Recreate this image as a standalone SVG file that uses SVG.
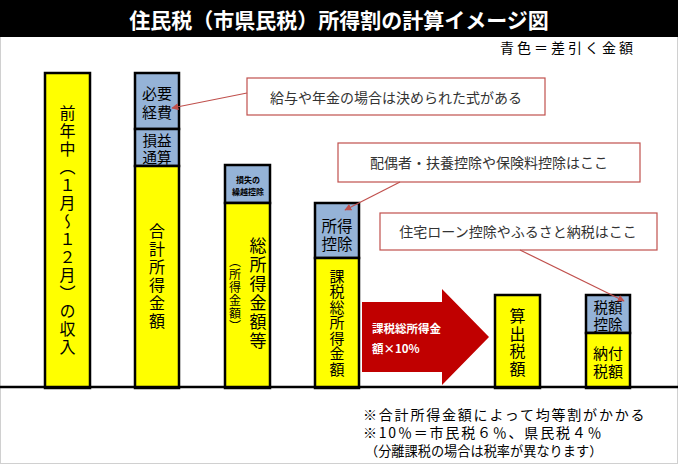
<svg xmlns="http://www.w3.org/2000/svg" width="678" height="464" viewBox="0 0 678 464">
<defs>
<style>
text{font-family:"Noto Sans CJK JP","Noto Sans CJK SC",sans-serif;fill:#000;}
.bar{stroke:#000;stroke-width:2.5;}
.y{fill:#ffff00;}
.b{fill:#95b3d7;}
.v{writing-mode:vertical-rl;text-anchor:middle;}
.h{text-anchor:middle;dominant-baseline:central;}
.call{fill:#fff;stroke:#c0504d;stroke-width:1.2;}
.ct{font-size:14px;fill:#333;text-anchor:middle;dominant-baseline:central;}
.con{stroke:#c0504d;stroke-width:1.2;fill:none;marker-end:url(#ah);}
</style>
<marker id="ah" viewBox="0 0 10 10" refX="9" refY="5" markerWidth="7" markerHeight="7" orient="auto" markerUnits="userSpaceOnUse">
<path d="M0,0 L10,5 L0,10 z" fill="#c0504d"/>
</marker>
</defs>
<rect x="0" y="0" width="678" height="464" fill="#fff"/>
<rect x="0.5" y="0.5" width="677" height="463" fill="none" stroke="#d0d0d0"/>
<g id="title">
<rect x="0" y="0" width="678" height="37" fill="#000"/>
<text x="339" y="19" class="h" style="font-size:21px;font-weight:bold;fill:#fff;">住民税（市県民税）所得割の計算イメージ図</text>
</g>
<g id="legend">
<text x="500" y="47" style="font-size:14px;letter-spacing:3px;dominant-baseline:central;">青色＝差引く金額</text>
</g>
<g id="bar1">
<rect class="bar y" x="45" y="73" width="45" height="315"/>
<text class="v" x="67.5" y="231" style="font-size:16px;letter-spacing:2px;">前年中（１月～１２月）の収入</text>
</g>
<g id="bar2">
<rect class="bar b" x="135" y="73" width="44" height="56"/>
<rect class="bar b" x="135" y="129" width="44" height="37"/>
<rect class="bar y" x="135" y="166" width="44" height="222"/>
<text class="h" style="font-size:15px;"><tspan x="157" y="92">必要</tspan><tspan x="157" y="111">経費</tspan></text>
<text class="h" style="font-size:14.5px;"><tspan x="157" y="139">損益</tspan><tspan x="157" y="156">通算</tspan></text>
<text class="v" x="157" y="277" style="font-size:16px;letter-spacing:2px;">合計所得金額</text>
</g>
<g id="bar3">
<rect class="bar b" x="225" y="165" width="45" height="38"/>
<rect class="bar y" x="225" y="203" width="45" height="185"/>
<text class="h" style="font-size:8px;font-weight:bold;"><tspan x="248" y="179">損失の</tspan><tspan x="248" y="191">繰越控除</tspan></text>
<text class="v" x="258" y="294" style="font-size:17px;letter-spacing:2px;">総所得金額等</text>
<text class="v" x="235" y="294" style="font-size:12px;letter-spacing:1px;">（所得金額）</text>
</g>
<g id="bar4">
<rect class="bar b" x="315" y="203" width="44" height="55"/>
<rect class="bar y" x="315" y="258" width="44" height="130"/>
<text class="h" style="font-size:15.5px;"><tspan x="337" y="225">所得</tspan><tspan x="337" y="243">控除</tspan></text>
<text class="v" x="337" y="323" style="font-size:15px;letter-spacing:0.5px;">課税総所得金額</text>
</g>
<g id="arrow">
<path d="M362,302 L442,302 L442,289 L489,337 L442,385 L442,372 L362,372 z" fill="#c00000"/>
<text style="font-size:11.5px;font-weight:bold;fill:#fff;dominant-baseline:central;"><tspan x="372" y="328">課税総所得金</tspan><tspan x="372" y="348">額×10%</tspan></text>
</g>
<g id="bar5">
<rect class="bar y" x="495" y="295" width="45" height="93"/>
<text class="v" x="517.5" y="343" style="font-size:16px;letter-spacing:1.5px;">算出税額</text>
</g>
<g id="bar6">
<rect class="bar b" x="586" y="295" width="44" height="38"/>
<rect class="bar y" x="586" y="333" width="44" height="55"/>
<text class="h" style="font-size:14.5px;"><tspan x="608" y="306">税額</tspan><tspan x="608" y="323">控除</tspan></text>
<text class="h" style="font-size:15px;"><tspan x="608" y="352">納付</tspan><tspan x="608" y="370">税額</tspan></text>
</g>
<g id="baseline">
<line x1="0" y1="387" x2="678" y2="387" stroke="#000" stroke-width="2.5"/>
</g>
<g id="callout1">
<rect class="call" x="247" y="78" width="298" height="37"/>
<text class="ct" x="396" y="97">給与や年金の場合は決められた式がある</text>
</g>
<g id="callout2">
<rect class="call" x="338" y="143" width="302" height="39"/>
<text class="ct" x="489" y="162">配偶者・扶養控除や保険料控除はここ</text>
</g>
<g id="callout3">
<rect class="call" x="380" y="213" width="277" height="37"/>
<text class="ct" x="518" y="231">住宅ローン控除やふるさと納税はここ</text>
</g>
<g id="connectors">
<path class="con" d="M247,93 L172,108"/>
<path class="con" d="M400,182 L345,210"/>
<path class="con" d="M520,250 L624,301"/>
</g>
<g id="notes">
<text style="font-size:14px;letter-spacing:1.8px;dominant-baseline:central;"><tspan x="363" y="414">※合計所得金額によって均等割がかかる</tspan><tspan x="363" y="432">※10％＝市民税６％、県民税４％</tspan></text>
<text x="365" y="450" style="font-size:13.2px;dominant-baseline:central;">（分離課税の場合は税率が異なります）</text>
</g>
</svg>
